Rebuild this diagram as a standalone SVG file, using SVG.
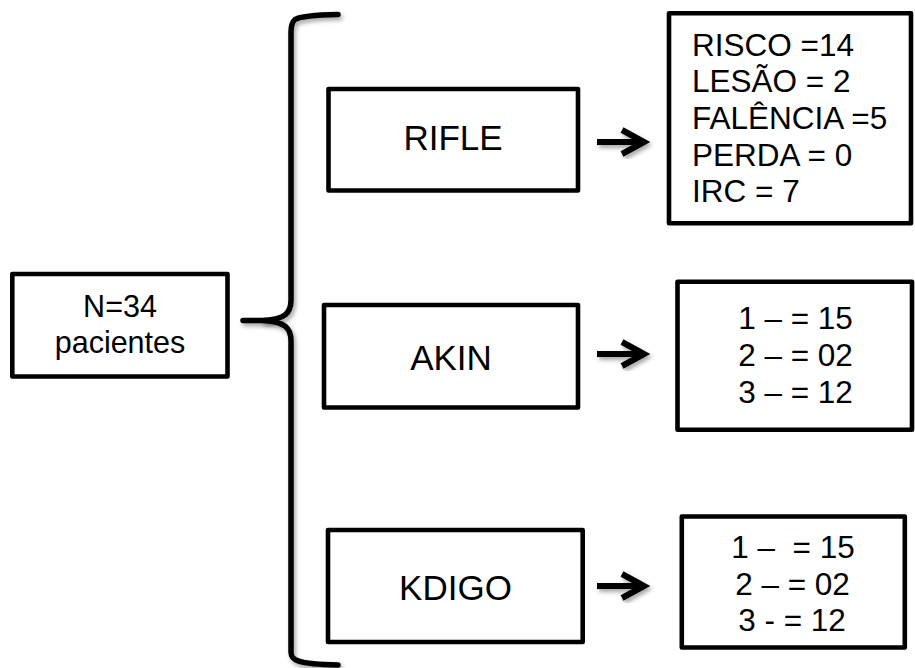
<svg xmlns="http://www.w3.org/2000/svg" width="915" height="668" viewBox="0 0 915 668">
  <defs>
    <filter id="soft-shadow" x="-20%" y="-20%" width="140%" height="140%">
      <feDropShadow dx="2" dy="3" stdDeviation="2" flood-color="#000" flood-opacity="0.35"/>
    </filter>
    <style>
      .box { fill: #fff; stroke: #000; stroke-width: 4.6; stroke-linejoin: round; }
      .label { font-family: "Liberation Sans", Arial, sans-serif; fill: #000; }
      .big { font-size: 35px; text-anchor: middle; }
      .mid { font-size: 30.5px; text-anchor: middle; }
      .res { font-size: 31.5px; }
      .res-c { font-size: 31.5px; text-anchor: middle; }
      .brace { fill: none; stroke: #000; stroke-width: 5.5; stroke-linecap: round; stroke-linejoin: round; filter: url(#soft-shadow); }
      .arrow { fill: none; stroke: #000; stroke-width: 6; stroke-linecap: butt; stroke-linejoin: miter; filter: url(#soft-shadow); }
    </style>
  </defs>

  <rect width="915" height="668" fill="#fff"/>

  <!-- connectors: brace and arrows -->
  <g id="connectors">
    <path class="brace" d="M338,14.5 C314,15 300,16.5 295,19.5 C292,22 291,25 291,32 L291,300 C291,313 285,319 264,320.5 L243,320.5"/>
    <path class="brace" d="M264,320.5 C285,322 291,328 291,341 L291,652 C291,660 296,664 338,665"/>
    <g id="arrow-rifle">
      <path class="arrow" d="M597,142 L641,142 M622,130 L644,142 L622,154"/>
    </g>
    <g id="arrow-akin">
      <path class="arrow" d="M597,354 L641,354 M622,342 L644,354 L622,366"/>
    </g>
    <g id="arrow-kdigo">
      <path class="arrow" d="M597,586 L641,586 M622,574 L644,586 L622,598"/>
    </g>
  </g>

  <!-- source node -->
  <g id="node-patients">
    <rect class="box" x="12.3" y="274" width="215.2" height="102.5"/>
    <text class="label mid" x="120" y="316.5">N=34</text>
    <text class="label mid" x="120" y="352.5">pacientes</text>
  </g>

  <!-- classification nodes -->
  <g id="node-rifle">
    <rect class="box" x="328.5" y="89" width="249.5" height="101.5"/>
    <text class="label big" x="453" y="149.5">RIFLE</text>
  </g>
  <g id="node-akin">
    <rect class="box" x="324" y="305" width="254" height="102.5"/>
    <text class="label big" x="451" y="369.5">AKIN</text>
  </g>
  <g id="node-kdigo">
    <rect class="box" x="328" y="530" width="254.7" height="112"/>
    <text class="label big" x="455.5" y="600">KDIGO</text>
  </g>

  <!-- result nodes -->
  <g id="node-rifle-result">
    <rect class="box" x="669" y="13.3" width="242" height="210"/>
    <text class="label res" x="692" y="55.5">RISCO =14</text>
    <text class="label res" x="692" y="92.2">LESÃO = 2</text>
    <text class="label res" x="692" y="128.9">FALÊNCIA =5</text>
    <text class="label res" x="692" y="165.6">PERDA = 0</text>
    <text class="label res" x="692" y="202.3">IRC = 7</text>
  </g>
  <g id="node-akin-result">
    <rect class="box" x="677.5" y="281.7" width="234.5" height="148.1"/>
    <text class="label res-c" x="795.5" y="328.5">1 – = 15</text>
    <text class="label res-c" x="795.5" y="365.5">2 – = 02</text>
    <text class="label res-c" x="795.5" y="402.5">3 – = 12</text>
  </g>
  <g id="node-kdigo-result">
    <rect class="box" x="681.8" y="516.5" width="223" height="131"/>
    <text class="label res-c" x="793" y="558" xml:space="preserve">1 –  = 15</text>
    <text class="label res-c" x="792.5" y="594.5">2 – = 02</text>
    <text class="label res-c" x="792" y="631">3 - = 12</text>
  </g>
</svg>
